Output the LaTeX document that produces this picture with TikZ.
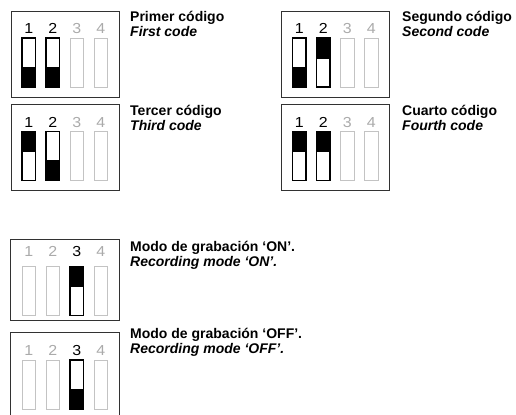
\documentclass[tikz,border=0pt]{standalone}
\usepackage{fontspec}
\setmainfont{Liberation Sans}
\usepackage{tikz}
\definecolor{boxgray}{RGB}{50,50,50}
\definecolor{offgray}{RGB}{195,195,195}
\definecolor{diggray}{RGB}{170,170,170}
\begin{document}
\begin{tikzpicture}[x=1bp, y=-1bp,
    box/.style = {draw=boxgray, line width=0.9bp},
    swon/.style = {draw=black, line width=1.1bp},
    swoff/.style = {draw=offgray, line width=0.8bp},
    lever/.style = {fill=black},
    digon/.style = {anchor=base, inner sep=0pt, xscale=1.1,
                    font=\fontsize{14.5bp}{14.5bp}\selectfont},
    digoff/.style = {digon, text=diggray},
    title/.style = {anchor=base west, inner sep=0pt,
                    font=\bfseries\fontsize{14bp}{15bp}\selectfont},
    subtitle/.style = {title,
                    font=\bfseries\itshape\fontsize{14bp}{15bp}\selectfont}]
  \useasboundingbox (0,0) rectangle (516,414);
  \clip (0,0) rectangle (516,414);

  % first code: 1 and 2 down
  \draw[box] (11,11) rectangle (119,97);
  \draw (28.75,33.5)  node[digon]  (b1d1) {1};
  \draw (52.75,33.5)  node[digon]  (b1d2) {2};
  \draw (76.75,33.5)  node[digoff] (b1d3) {3};
  \draw (100.75,33.5) node[digoff] (b1d4) {4};
  \fill[lever] (22,66.5) rectangle (35.5,87);
  \fill[lever] (46,66.5) rectangle (59.5,87);
  \draw[swon]  (22,38) rectangle (35.5,87);
  \draw[swon]  (46,38) rectangle (59.5,87);
  \draw[swoff] (70,38) rectangle (83.5,87);
  \draw[swoff] (94,38) rectangle (107.5,87);
  \draw (130,21.7) node[title]    (t1a) {Primer código};
  \draw (130,36.7) node[subtitle] (t1b) {First code};

  % second code: 1 down, 2 up
  \draw[box] (281.5,11) rectangle (389.5,97);
  \draw (299.25,33.5) node[digon]  (b2d1) {1};
  \draw (323.25,33.5) node[digon]  (b2d2) {2};
  \draw (347.25,33.5) node[digoff] (b2d3) {3};
  \draw (371.25,33.5) node[digoff] (b2d4) {4};
  \fill[lever] (292.5,66.5) rectangle (306,87);
  \fill[lever] (316.5,38)   rectangle (330,58.5);
  \draw[swon]  (292.5,38) rectangle (306,87);
  \draw[swon]  (316.5,38) rectangle (330,87);
  \draw[swoff] (340.5,38) rectangle (354,87);
  \draw[swoff] (364.5,38) rectangle (378,87);
  \draw (402,21.7) node[title]    (t2a) {Segundo código};
  \draw (402,36.7) node[subtitle] (t2b) {Second code};

  % third code: 1 up, 2 down
  \draw[box] (11,104.5) rectangle (119,190.5);
  \draw (28.75,127)  node[digon]  (b3d1) {1};
  \draw (52.75,127)  node[digon]  (b3d2) {2};
  \draw (76.75,127)  node[digoff] (b3d3) {3};
  \draw (100.75,127) node[digoff] (b3d4) {4};
  \fill[lever] (22,131.5) rectangle (35.5,152);
  \fill[lever] (46,160)   rectangle (59.5,180.5);
  \draw[swon]  (22,131.5) rectangle (35.5,180.5);
  \draw[swon]  (46,131.5) rectangle (59.5,180.5);
  \draw[swoff] (70,131.5) rectangle (83.5,180.5);
  \draw[swoff] (94,131.5) rectangle (107.5,180.5);
  \draw (130,115.2) node[title]    (t3a) {Tercer código};
  \draw (130,130.2) node[subtitle] (t3b) {Third code};

  % fourth code: 1 and 2 up
  \draw[box] (281.5,104.5) rectangle (389.5,190.5);
  \draw (299.25,127) node[digon]  (b4d1) {1};
  \draw (323.25,127) node[digon]  (b4d2) {2};
  \draw (347.25,127) node[digoff] (b4d3) {3};
  \draw (371.25,127) node[digoff] (b4d4) {4};
  \fill[lever] (292.5,131.5) rectangle (306,152);
  \fill[lever] (316.5,131.5) rectangle (330,152);
  \draw[swon]  (292.5,131.5) rectangle (306,180.5);
  \draw[swon]  (316.5,131.5) rectangle (330,180.5);
  \draw[swoff] (340.5,131.5) rectangle (354,180.5);
  \draw[swoff] (364.5,131.5) rectangle (378,180.5);
  \draw (402,115.2) node[title]    (t4a) {Cuarto código};
  \draw (402,130.2) node[subtitle] (t4b) {Fourth code};

  % recording mode on: 3 up
  \draw[box] (10.5,239) rectangle (119,320);
  \draw (28.75,256.7)  node[digoff] (b5d1) {1};
  \draw (52.75,256.7)  node[digoff] (b5d2) {2};
  \draw (76.75,256.7)  node[digon]  (b5d3) {3};
  \draw (100.75,256.7) node[digoff] (b5d4) {4};
  \fill[lever] (70,266.7) rectangle (83.5,287.2);
  \draw[swoff] (22,266.7) rectangle (35.5,315.7);
  \draw[swoff] (46,266.7) rectangle (59.5,315.7);
  \draw[swon]  (70,266.7) rectangle (83.5,315.7);
  \draw[swoff] (94,266.7) rectangle (107.5,315.7);
  \draw (130,251.7) node[title]    (t5a) {Modo de grabación ‘ON’.};
  \draw (130,266.7) node[subtitle] (t5b) {Recording mode ‘ON’.};

  % recording mode off: 3 down (box runs off the page)
  \draw[box] (10.5,332.7) rectangle (119,440);
  \draw (28.75,355)  node[digoff] (b6d1) {1};
  \draw (52.75,355)  node[digoff] (b6d2) {2};
  \draw (76.75,355)  node[digon]  (b6d3) {3};
  \draw (100.75,355) node[digoff] (b6d4) {4};
  \fill[lever] (70,388.5) rectangle (83.5,409);
  \draw[swoff] (22,360) rectangle (35.5,409);
  \draw[swoff] (46,360) rectangle (59.5,409);
  \draw[swon]  (70,360) rectangle (83.5,409);
  \draw[swoff] (94,360) rectangle (107.5,409);
  \draw (130,338.3) node[title]    (t6a) {Modo de grabación ‘OFF’.};
  \draw (130,353.3) node[subtitle] (t6b) {Recording mode ‘OFF’.};
\end{tikzpicture}
\end{document}
